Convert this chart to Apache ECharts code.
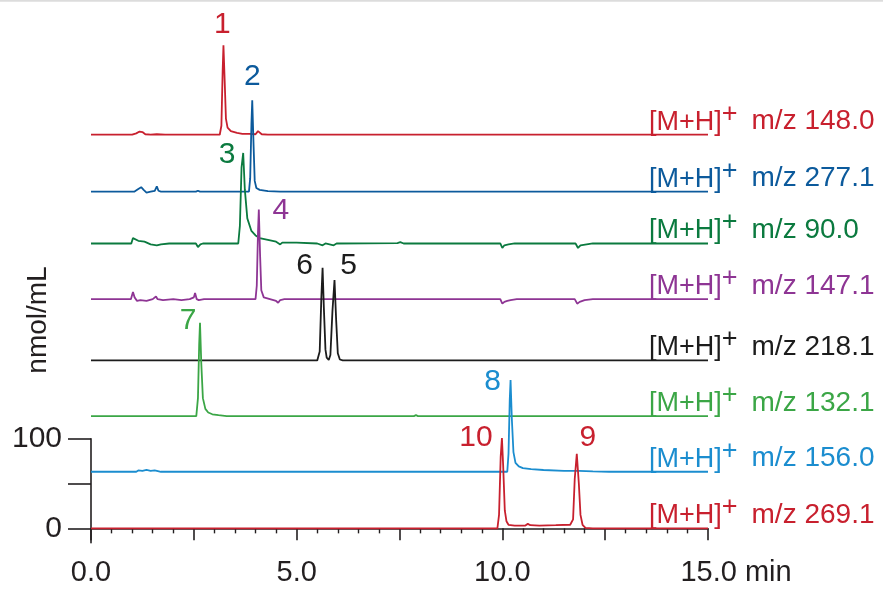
<!DOCTYPE html>
<html><head><meta charset="utf-8">
<script src="https://cdn.jsdelivr.net/npm/echarts@6/dist/echarts.min.js"></script>
<style>html,body{margin:0;padding:0;background:#fff}#c{width:883px;height:592px}</style>
</head><body><div id="c"></div>
<script>
const FONT = '"Liberation Sans", Arial, Helvetica, sans-serif';

// ---- data ----
const mzLabels = ['148.0', '277.1', '90.0', '147.1', '218.1', '132.1', '156.0', '269.1'];
const traceColors = ['#c8202e', '#0c5a9c', '#0b7a3f', '#8e3594', '#1c1c1c', '#3ba646', '#1b8dcf', '#c8202e'];
const baselineOffsets = [439, 375.5, 317.7, 255.6, 187.3, 125.2, 63.1, 0];

// [time (min), signal above own baseline (nmol/mL)]
const trace148 = [[0,0],[1.0,0],[1.1,1.5],[1.18,3.5],[1.25,3],[1.32,0.5],[1.45,0],[1.6,0.5],[1.8,0],[3.13,0],[3.17,10],[3.2,70],[3.22,99.8],[3.25,60],[3.28,18],[3.32,8],[3.4,4],[3.55,2],[3.68,1],[3.72,-0.5],[3.85,1],[4.0,0.5],[4.06,4],[4.1,3],[4.15,0.5],[4.3,0],[15,0]];
const trace277 = [[0,0],[1.05,0],[1.15,3],[1.22,5],[1.28,2],[1.35,-1],[1.45,0],[1.55,1],[1.6,6],[1.64,1],[1.7,0],[2.55,0],[2.6,1],[2.65,0],[3.84,0],[3.87,15],[3.9,75],[3.92,102],[3.95,55],[3.98,12],[4.02,4],[4.1,2],[4.3,0.5],[4.6,0],[15,0]];
const trace90 = [[0,0],[0.98,0],[1.02,6],[1.06,5],[1.15,3],[1.3,2],[1.45,-1],[1.6,-2],[1.7,-1],[1.9,0],[2.55,0],[2.6,-4],[2.66,-1],[2.72,0],[3.58,0],[3.62,20],[3.66,85],[3.7,101],[3.74,60],[3.8,28],[3.9,14],[4.0,9],[4.1,6],[4.3,4],[4.5,2],[4.6,-1],[4.65,1],[5.0,1],[5.5,0],[5.63,-2],[5.7,0],[5.9,-2],[5.97,0],[7.45,0.5],[7.52,1.5],[7.6,0],[9.95,0],[10.0,-5],[10.05,-2],[10.15,-1],[10.3,0],[11.78,0],[11.84,-5],[11.9,-2],[12.05,-1],[12.2,0],[15,0]];
const trace147 = [[0,0],[0.97,0],[1.02,8],[1.06,2],[1.12,-2],[1.2,-1],[1.35,-2],[1.5,0],[1.58,3],[1.62,0],[1.75,-1],[2.0,0],[2.2,-1],[2.4,0],[2.5,2],[2.53,7],[2.57,0],[2.62,-1],[2.75,0],[4.0,0],[4.03,15],[4.06,75],[4.08,100],[4.11,50],[4.14,10],[4.2,2],[4.35,0],[4.5,-2],[4.55,-4],[4.6,-1],[4.7,0],[9.95,0],[10.0,-5],[10.05,-3],[10.12,-2],[10.2,-1],[10.35,0],[11.76,0],[11.82,-5],[11.88,-3],[12.0,-1],[12.2,0],[15,0]];
const trace218 = [[0,0],[5.5,0],[5.56,10],[5.6,70],[5.63,103.2],[5.66,60],[5.7,12],[5.73,3],[5.78,0.5],[5.82,6],[5.87,55],[5.92,89.5],[5.96,45],[6.0,8],[6.05,1],[6.12,0],[15,0]];
const trace132 = [[0,0],[2.56,0],[2.6,20],[2.63,80],[2.65,104],[2.68,60],[2.72,20],[2.78,8],[2.85,4],[2.95,2],[3.1,1],[3.3,0],[3.58,0],[3.62,2],[3.66,0],[7.85,0],[7.9,1],[7.95,0],[15,0]];
const trace156 = [[0,0],[1.1,0],[1.15,1.5],[1.25,1],[1.35,2],[1.45,1],[1.55,1.5],[1.7,0],[10.12,0],[10.15,20],[10.18,80],[10.2,102.2],[10.23,60],[10.27,22],[10.32,10],[10.4,6],[10.5,4],[10.7,3],[11.0,2],[11.5,1],[11.78,1],[11.82,2.5],[11.86,1],[12.2,0.5],[12.6,0],[15,0]];
const trace269 = [[0,0],[9.88,0],[9.92,15],[9.96,80],[9.99,100.8],[10.02,70],[10.06,20],[10.1,8],[10.15,4],[10.3,3],[10.55,3],[10.62,5],[10.68,3.5],[10.9,3],[11.3,3.5],[11.65,4],[11.72,10],[11.76,55],[11.81,83],[11.86,50],[11.9,15],[11.95,4],[12.02,0.5],[12.2,0],[15,0]];
const traces = [trace148, trace277, trace90, trace147, trace218, trace132, trace156, trace269];

const peakNumbers = ['1', '2', '3', '4', '5', '6', '7', '8', '9', '10'];
const peakTrace = [0, 1, 2, 3, 4, 4, 5, 6, 7, 7];
const peakTimes = [3.22, 3.92, 3.70, 4.08, 5.92, 5.63, 2.65, 10.20, 11.81, 9.99];
const peakHeights = [99.8, 102, 101, 100, 89.5, 103.2, 104, 102.2, 83, 100.8];

const xLabelValues = [0, 5, 10, 15];
const yTickValues = [0, 50, 100];
const yLabelValues = [0, 100];

// ---- styles (label offsets in px) ----
const peakLabelOffsets = [[-1,-20],[0,-23],[-16,2],[22,1],[14,-14],[-18,-2],[-12,-2],[-18,2],[11,-16],[-26,0]];
const AXIS = '#231f20';

const chart = echarts.init(document.getElementById('c'), null, {renderer: 'canvas'});

const lineSeries = traces.map((tr, i) => ({
  type: 'line',
  xAxisIndex: 0, yAxisIndex: 0,
  data: tr.map(p => [p[0], p[1] + baselineOffsets[i]]),
  showSymbol: false, symbol: 'none',
  lineStyle: {color: traceColors[i], width: 1.8},
  itemStyle: {color: traceColors[i]},
  z: 2,
  silent: true,
  endLabel: {
    show: true,
    formatter: () => '{t|[M+H]}{s|+}{r|m/z ' + mzLabels[i] + '}',
    align: 'left',
    verticalAlign: 'bottom',
    distance: 0,
    offset: [-59, 1],
    rich: {
      t: {fontSize: 27, fontFamily: FONT, color: traceColors[i], verticalAlign: 'bottom'},
      s: {fontSize: 27, fontFamily: FONT, color: traceColors[i], verticalAlign: 'bottom', padding: [0, 0, 8, 0]},
      r: {fontSize: 28, fontFamily: FONT, color: traceColors[i], verticalAlign: 'bottom', padding: [0, 0, 0, 14]}
    }
  }
}));

const peakSeries = {
  type: 'scatter',
  xAxisIndex: 0, yAxisIndex: 0,
  symbolSize: 1,
  itemStyle: {color: 'rgba(0,0,0,0)', opacity: 1},
  silent: true,
  z: 5,
  data: peakNumbers.map((n, k) => ({
    name: n,
    value: [peakTimes[k], peakHeights[k] + baselineOffsets[peakTrace[k]]],
    label: {
      show: true, formatter: n, position: 'inside',
      offset: peakLabelOffsets[k],
      color: traceColors[peakTrace[k]],
      opacity: 1,
      fontSize: 30, fontFamily: FONT
    }
  }))
};

chart.setOption({
  animation: false,
  backgroundColor: '#ffffff',
  grid: [
    {left: 91, right: 175, top: 4.7, bottom: 49.3, containLabel: false},
    {left: 91, right: 175, top: 438.7, bottom: 49.3, containLabel: false}
  ],
  xAxis: [
    {
      type: 'value', gridIndex: 0, min: 0, max: 15, interval: 2.5,
      axisLine: {show: true, lineStyle: {color: AXIS, width: 1.6}},
      axisTick: {show: true, length: 12, lineStyle: {color: AXIS, width: 1.6}},
      minorTick: {show: true, splitNumber: 5, length: 5, lineStyle: {color: AXIS, width: 1.4}},
      splitLine: {show: false},
      axisLabel: {
        customValues: xLabelValues,
        margin: 16,
        fontSize: 29, fontFamily: FONT, color: AXIS,
        formatter: v => v === 15 ? '{p|}{v|15.0}{u| min}' : v.toFixed(1),
        rich: {
          p: {width: 56},
          v: {fontSize: 29, fontFamily: FONT, color: AXIS},
          u: {fontSize: 29, fontFamily: FONT, color: AXIS}
        }
      }
    },
    {type: 'value', gridIndex: 1, min: 0, max: 15, show: false}
  ],
  yAxis: [
    {type: 'value', gridIndex: 0, min: -16, max: 584, show: false},
    {
      type: 'value', gridIndex: 1, min: -16, max: 100,
      axisLine: {show: true, lineStyle: {color: AXIS, width: 1.6}},
      axisTick: {show: true, customValues: yTickValues, length: 23, lineStyle: {color: AXIS, width: 1.6}},
      splitLine: {show: false},
      axisLabel: {
        customValues: yLabelValues, margin: 29,
        fontSize: 30, fontFamily: FONT, color: AXIS
      }
    }
  ],
  graphic: [
    {type: 'line', shape: {x1: 0, y1: 0.8, x2: 883, y2: 0.8}, style: {stroke: '#dcdcdc', lineWidth: 2}, silent: true},
    {type: 'text', x: 38, y: 320, rotation: Math.PI / 2,
     style: {text: 'nmol/mL', fontSize: 28, fontFamily: FONT, fill: AXIS, align: 'center', verticalAlign: 'middle'}}
  ],
  series: lineSeries.concat([peakSeries])
});
</script>
</body></html>
